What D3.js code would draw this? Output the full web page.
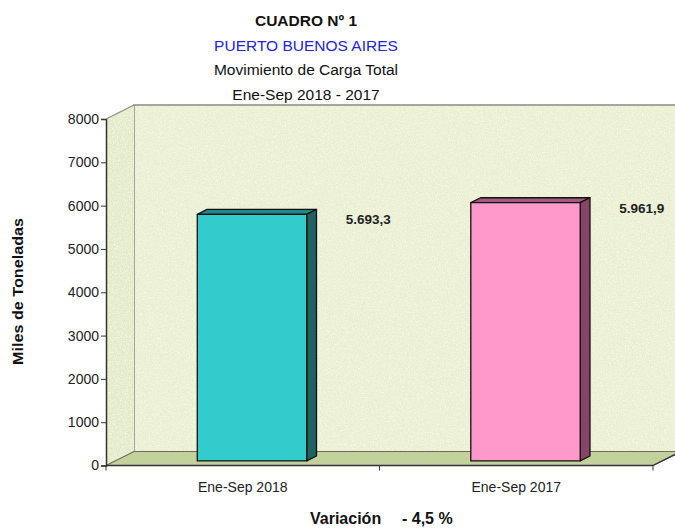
<!DOCTYPE html>
<html>
<head>
<meta charset="utf-8">
<script src="https://cdn.jsdelivr.net/npm/d3@7"></script>
<style>
  body { margin: 0; background: #fff; }
  svg { display: block; font-family: "Liberation Sans", Arial, sans-serif; }
</style>
</head>
<body>
<div id="chart"></div>
<script>
// chart data
var categories = ["Ene-Sep 2018", "Ene-Sep 2017"];
var values = [5693.3, 5961.9];
var valueLabels = ["5.693,3", "5.961,9"];
var yTicks = [0, 1000, 2000, 3000, 4000, 5000, 6000, 7000, 8000];
var titles = ["CUADRO Nº 1", "PUERTO BUENOS AIRES", "Movimiento de Carga Total", "Ene-Sep 2018 - 2017"];
var variationText = ["Variación", "- 4,5 %"];

var w = 675;
var h = 532;
var plotLeft = 106, plotRight = 653, plotTop = 119, plotBottom = 465.5;
// 3d depth of the plot box
var depthX = 28, depthY = -14;

var colors = [
  { front: "#33cccc", side: "#1d6363", top: "#238888" },
  { front: "#ff99cc", side: "#864466", top: "#a35a80" }
];

var svg = d3.select("#chart").append("svg").attr("width", w).attr("height", h);

//speckled paper texture for the walls
var filter = svg.append("defs").append("filter")
  .attr("id", "paper")
  .attr("x", 0).attr("y", 0).attr("width", 1).attr("height", 1);
filter.append("feTurbulence")
  .attr("type", "fractalNoise")
  .attr("baseFrequency", 0.75)
  .attr("numOctaves", 2)
  .attr("seed", 3)
  .attr("result", "n");
filter.append("feColorMatrix")
  .attr("in", "n")
  .attr("type", "matrix")
  .attr("values", "0 0 0 0 1  0 0 0 0 1  0 0 0 0 0.9  0 0 0 -1.4 0.85")
  .attr("result", "w");
filter.append("feComposite")
  .attr("in", "w").attr("in2", "SourceGraphic")
  .attr("operator", "in").attr("result", "wc");
var merge = filter.append("feMerge");
merge.append("feMergeNode").attr("in", "SourceGraphic");
merge.append("feMergeNode").attr("in", "wc");

var xScale = d3.scaleBand().domain(categories).range([plotLeft, plotRight]).paddingInner(0.6).paddingOuter(0.3);
var yScale = d3.scaleLinear().domain([0, 8000]).range([plotBottom, plotTop]);

var line = d3.line();

//back wall
svg.append("path")
  .attr("d", line([[plotLeft + depthX, plotTop + depthY], [w + 10, plotTop + depthY], [w + 10, plotBottom + depthY], [plotLeft + depthX, plotBottom + depthY]]) + "Z")
  .attr("fill", "#e9efd2")
  .attr("filter", "url(#paper)");
svg.append("path")
  .attr("d", line([[plotLeft + depthX, plotBottom + depthY], [plotLeft + depthX, plotTop + depthY], [w + 10, plotTop + depthY]]))
  .attr("fill", "none")
  .attr("stroke", "#8a8a80")
  .attr("stroke-width", 1.5);

//side wall
svg.append("path")
  .attr("d", line([[plotLeft, plotTop], [plotLeft + depthX, plotTop + depthY], [plotLeft + depthX, plotBottom + depthY], [plotLeft, plotBottom]]) + "Z")
  .attr("fill", "#e2e9c8")
  .attr("filter", "url(#paper)");

//floor
svg.append("path")
  .attr("d", line([[plotLeft, plotBottom], [plotRight, plotBottom], [plotRight + depthX, plotBottom + depthY], [plotLeft + depthX, plotBottom + depthY]]) + "Z")
  .attr("fill", "#c3d29c")
  .attr("stroke", "#6b6b5a")
  .attr("stroke-width", 1.2);

//bars
var f0 = 0.33, f1 = 0.68;
var bars = svg.selectAll(".bar").data(values).enter().append("g").attr("class", "bar");

bars.each(function (d, i) {
  var g = d3.select(this);
  var x0 = xScale(categories[i]) + depthX * f0;
  var x1 = x0 + xScale.bandwidth();
  var yb = yScale(0) + depthY * f0;
  var yt = yScale(d) + depthY * f0;
  var ddx = depthX * (f1 - f0), ddy = depthY * (f1 - f0);
  g.append("path")
    .attr("d", line([[x0, yt], [x0 + ddx, yt + ddy], [x1 + ddx, yt + ddy], [x1, yt]]) + "Z")
    .attr("fill", colors[i].top);
  g.append("path")
    .attr("d", line([[x1, yt], [x1 + ddx, yt + ddy], [x1 + ddx, yb + ddy], [x1, yb]]) + "Z")
    .attr("fill", colors[i].side);
  g.append("rect")
    .attr("x", x0).attr("y", yt)
    .attr("width", x1 - x0).attr("height", yb - yt)
    .attr("fill", colors[i].front);
  g.selectAll("path, rect")
    .attr("stroke", "#111")
    .attr("stroke-width", 1.3)
    .attr("stroke-linejoin", "round");

  //value label
  g.append("text")
    .attr("x", x1 + 39)
    .attr("y", yt + 10)
    .style("font-size", "13.5px")
    .style("font-weight", "bold")
    .style("fill", "#222")
    .text(valueLabels[i]);
});

//y axis
var yAxis = d3.axisLeft(yScale).tickValues(yTicks).tickSize(5).tickFormat(d3.format("d"));
var yg = svg.append("g")
  .attr("transform", "translate(" + plotLeft + ",0)")
  .call(yAxis);
yg.select(".domain").attr("stroke", "#333").attr("stroke-width", 1.5);
yg.selectAll(".tick line").attr("stroke", "#333");
yg.selectAll(".tick text")
  .attr("x", -7)
  .style("font-size", "14px")
  .style("fill", "#222")
  .style("font-family", "Liberation Sans, Arial, sans-serif");

//top edge of side wall
svg.append("line")
  .attr("x1", plotLeft).attr("y1", plotTop)
  .attr("x2", plotLeft + depthX).attr("y2", plotTop + depthY)
  .attr("stroke", "#8a8a80").attr("stroke-width", 1.2);

//x axis line and ticks
svg.append("line")
  .attr("x1", plotLeft).attr("y1", plotBottom)
  .attr("x2", plotRight).attr("y2", plotBottom)
  .attr("stroke", "#333").attr("stroke-width", 1.5);
svg.append("line")
  .attr("x1", plotRight).attr("y1", plotBottom)
  .attr("x2", plotRight + depthX).attr("y2", plotBottom + depthY)
  .attr("stroke", "#333").attr("stroke-width", 1.2);

var tickXs = [plotLeft, plotLeft + xScale.step(), plotRight];
svg.selectAll(".xtick").data(tickXs).enter().append("line")
  .attr("x1", function (d) { return d; })
  .attr("x2", function (d) { return d; })
  .attr("y1", plotBottom).attr("y2", plotBottom + 5)
  .attr("stroke", "#333");

//category labels
svg.selectAll(".xlabel").data(categories).enter().append("text")
  .attr("x", function (d) { return xScale(d) + xScale.bandwidth() / 2; })
  .attr("y", plotBottom + 26)
  .attr("text-anchor", "middle")
  .style("font-size", "14px")
  .style("fill", "#222")
  .text(function (d) { return d; });

//titles
var titleColors = ["#111", "#2222dd", "#111", "#111"];
svg.selectAll(".title").data(titles).enter().append("text")
  .attr("x", 306)
  .attr("y", function (d, i) { return 26 + i * 24.5; })
  .attr("text-anchor", "middle")
  .style("font-size", "15.5px")
  .style("font-weight", function (d, i) { return i === 0 ? "bold" : "normal"; })
  .style("fill", function (d, i) { return titleColors[i]; })
  .text(function (d) { return d; });

//y axis title
svg.append("text")
  .attr("transform", "translate(23,291.5) rotate(-90)")
  .attr("text-anchor", "middle")
  .attr("textLength", 147)
  .attr("lengthAdjust", "spacingAndGlyphs")
  .style("font-size", "14px")
  .style("font-weight", "bold")
  .style("fill", "#111")
  .text("Miles de Toneladas");

//variation
svg.append("text")
  .attr("x", 310).attr("y", 524)
  .style("font-size", "16px")
  .style("font-weight", "bold")
  .style("fill", "#111")
  .text(variationText[0]);
svg.append("text")
  .attr("x", 402).attr("y", 524)
  .style("font-size", "16px")
  .style("font-weight", "bold")
  .style("fill", "#111")
  .text(variationText[1]);
</script>
</body>
</html>
